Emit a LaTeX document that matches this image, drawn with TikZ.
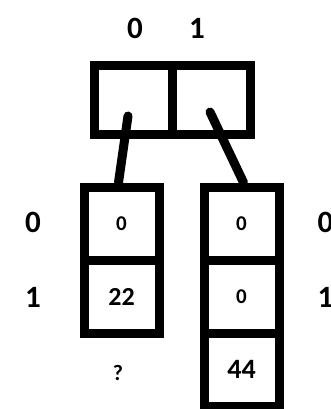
\documentclass[tikz,border=0pt]{standalone}
\usepackage{fontspec}
\setmainfont{Carlito}
\begin{document}
\begin{tikzpicture}[x=1pt,y=-1pt,
  cell/.style={draw=black,line width=9pt,inner sep=0pt,minimum width=75pt,minimum height=73pt,font=\bfseries},
  topcell/.style={draw=black,line width=9pt,inner sep=0pt,minimum width=78pt,minimum height=68pt},
  idx/.style={font=\bfseries\fontsize{31}{31}\selectfont},
  ptr/.style={line width=9pt,line cap=round}]
\useasboundingbox (0,0) rectangle (330,409);
% top array
\node[topcell] (t0) at (133,100) {};
\node[topcell] (t1) at (211,100) {};
\node[idx] (i0) at (135,28) {0};
\node[idx] (i1) at (197,28) {1};
% left array
\node[cell,font=\bfseries\fontsize{21}{21}\selectfont] (l0) at (121.5,223.5) {0};
\node[cell,font=\bfseries\fontsize{26}{26}\selectfont] (l1) at (121.5,296.5) {22};
\node[font=\bfseries\fontsize{22}{22}\selectfont] (lq) at (118,373) {?};
% right array
\node[cell,font=\bfseries\fontsize{21}{21}\selectfont] (r0) at (241.5,223.5) {0};
\node[cell,font=\bfseries\fontsize{21}{21}\selectfont] (r1) at (241.5,296.5) {0};
\node[cell,font=\bfseries\fontsize{28}{28}\selectfont] (r2) at (241.5,369.5) {44};
% side indices
\node[idx] (sl0) at (33,222) {0};
\node[idx] (sl1) at (33,297) {1};
\node[idx,anchor=west] (sr0) at (314,222) {0};
\node[idx,anchor=west] (sr1) at (314,297) {1};
% pointers
\coordinate (p0) at (128,116);
\coordinate (p1) at (210,112);
\draw[ptr] (p0) -- ([xshift=-3pt]l0.north);
\draw[ptr] (p1) -- ([xshift=2pt]r0.north);
\end{tikzpicture}
\end{document}
